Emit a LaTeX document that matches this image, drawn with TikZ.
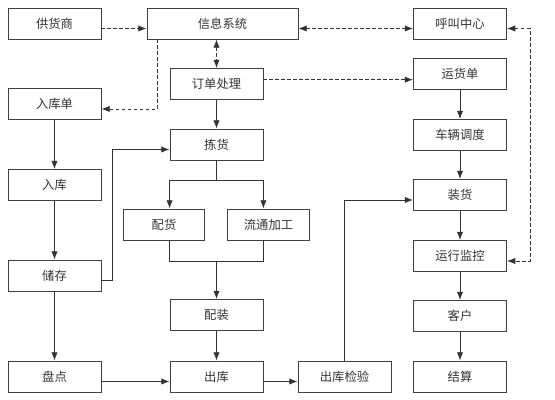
\documentclass[tikz,border=0pt]{standalone}
\usepackage{fontspec}
\newfontfamily\cjk{Noto Sans CJK SC}
\usetikzlibrary{arrows.meta,calc,positioning}

\begin{document}
\begin{tikzpicture}[x=0.03cm,y=-0.03cm,
    every node/.style={font=\cjk\fontsize{10.5}{12}\selectfont,text=black!80},
    box/.style={draw=black!75,line width=.7pt,inner sep=0pt,minimum width=2.79cm,minimum height=.93cm},
    wbox/.style={box,minimum width=4.53cm},
    sbox/.style={box,minimum width=2.45cm},
    flow/.style={draw=black!80,line width=.7pt},
    info/.style={draw=black!80,line width=.7pt,dash pattern=on 1mm off .8mm},
    >={Latex[length=2.5mm,width=1.9mm]}]

    \useasboundingbox (0,0) rectangle (555,400);

    % top row
    \node[box] (GYS) at (54.5,23.5) {供货商};
    \node[wbox] (XXXT) at (222.5,23.5) {信息系统};
    \node[box] (HJZX) at (460,23.5) {呼叫中心};

    % left column
    \node[box] (RKD) at (54.5,104) {入库单};
    \node[box] (RK) at (54.5,185) {入库};
    \node[box] (CC) at (54.5,275.5) {储存};
    \node[box] (PD) at (54.5,376.5) {盘点};

    % middle column
    \node[box] (DDCL) at (216.5,84) {订单处理};
    \node[box] (JH) at (216.5,144.5) {拣货};
    \node[sbox] (PH) at (164,224.5) {配货};
    \node[sbox] (LTJG) at (268.5,224.5) {流通加工};
    \node[box] (PZ) at (216.5,315) {配装};
    \node[box] (CK) at (216.5,376.5) {出库};
    \node[box] (CKJY) at (344.5,376.5) {出库检验};

    % right column
    \node[box] (YDD) at (460,74) {运货单};
    \node[box] (CLDD) at (460,135) {车辆调度};
    \node[box] (ZH) at (460,195) {装货};
    \node[box] (YXJK) at (460,256) {运行监控};
    \node[box] (KH) at (460,316) {客户};
    \node[box] (JS) at (460,376.5) {结算};

    \coordinate (LEFTUP) at (112,0);
    \coordinate (RIGHTUP) at (530,0);
    \coordinate (FORK) at (0,180);
    \coordinate (MERGE) at (0,261);

    % information flow
    \path[info,->] ([yshift=-.15cm]GYS.east) -- ([yshift=-.15cm]GYS.east -| XXXT.west);
    \path[info,<->] ([yshift=-.15cm]XXXT.east) -- ([yshift=-.15cm]XXXT.east -| HJZX.west);
    \path[info,->] ([xshift=.33cm]XXXT.south west) |- ([yshift=-.15cm]RKD.east);
    \path[info,<->] (DDCL.north |- XXXT.south) -- (DDCL.north);
    \path[info,->] ([yshift=.13cm]DDCL.east) -- ([yshift=.13cm]DDCL.east -| YDD.west);
    \path[info,<->] ([yshift=-.15cm]HJZX.east) -- ([yshift=-.15cm]HJZX.east -| RIGHTUP)
      -- ([yshift=-.15cm]YXJK.east -| RIGHTUP) -- ([yshift=-.15cm]YXJK.east);

    % goods flow
    \path[flow,->] (RKD) -- (RK);
    \path[flow,->] (RK) -- (CC);
    \path[flow,->] (CC) -- (PD);
    \path[flow,->] ([yshift=-.15cm]CC.east) -- ([yshift=-.15cm]CC.east -| LEFTUP) |- ([yshift=-.15cm]JH.west);
    \path[flow,->] (DDCL) -- (JH);

    \path[flow] (JH.south) -- (JH.south |- FORK);
    \path[flow] (JH.south west |- FORK) -- (JH.south east |- FORK);
    \path[flow,->] (JH.south west |- FORK) -- (JH.south west |- PH.north);
    \path[flow,->] (JH.south east |- FORK) -- (JH.south east |- LTJG.north);

    \path[flow] (PZ.north west |- PH.south) -- (PZ.north west |- MERGE) -- (PZ.north east |- MERGE) -- (PZ.north east |- LTJG.south);
    \path[flow,->] (PZ.north |- MERGE) -- (PZ.north);
    \path[flow,->] (PZ) -- (CK);

    \path[flow,->] ([yshift=-.15cm]PD.east) -- ([yshift=-.15cm]PD.east -| CK.west);
    \path[flow,->] ([yshift=-.15cm]CK.east) -- ([yshift=-.15cm]CK.east -| CKJY.west);
    \path[flow,->] (CKJY.north) |- ([yshift=-.15cm]ZH.west);

    \path[flow,->] (YDD) -- (CLDD);
    \path[flow,->] (CLDD) -- (ZH);
    \path[flow,->] (ZH) -- (YXJK);
    \path[flow,->] (YXJK) -- (KH);
    \path[flow,->] (KH) -- (JS);

\end{tikzpicture}
\end{document}
